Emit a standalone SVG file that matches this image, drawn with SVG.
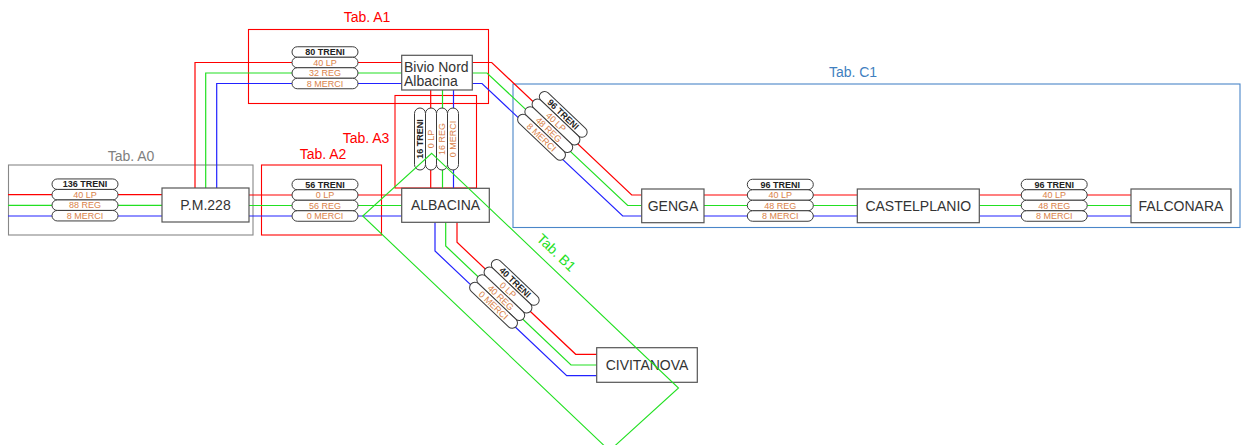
<svg xmlns="http://www.w3.org/2000/svg" width="1243" height="445" viewBox="0 0 1243 445">
<style>
.cap{fill:#fff;stroke:#3c3c3c;stroke-width:1}
.tt{font-family:"Liberation Sans",Arial,sans-serif;font-size:9px;font-weight:bold;fill:#222;text-anchor:middle}
.to{font-family:"Liberation Sans",Arial,sans-serif;font-size:9px;fill:#d9824a;text-anchor:middle}
.box{fill:#fff;stroke:#555;stroke-width:1.2}
.nt{font-family:"Liberation Sans",Arial,sans-serif;font-size:14px;fill:#333;text-anchor:middle}
.r{stroke:#f00;fill:none;stroke-width:1.2}
.g{stroke:#22e022;fill:none;stroke-width:1.2}
.b{stroke:#2222ff;fill:none;stroke-width:1.2}
.fr{fill:none;stroke-width:1.1}
.lab{font-family:"Liberation Sans",Arial,sans-serif;font-size:14px;text-anchor:middle}
</style>
<rect width="1243" height="445" fill="#fff"/>

<g id="frames">
  <g id="tab-a0"><rect class="fr" x="8.5" y="165" width="244.5" height="70" stroke="#888"/><text class="lab" x="131" y="161" fill="#808080">Tab. A0</text></g>
  <g id="tab-a1"><rect class="fr" x="248.5" y="29.5" width="240" height="74" stroke="#f00"/><text class="lab" x="367" y="22" fill="#f00">Tab. A1</text></g>
  <g id="tab-a2"><rect class="fr" x="261.5" y="165" width="120" height="70" stroke="#f00"/><text class="lab" x="323" y="159" fill="#f00">Tab. A2</text></g>
  <g id="tab-a3"><rect class="fr" x="395" y="95.5" width="81.5" height="92.5" stroke="#f00"/><text class="lab" x="366" y="143" fill="#f00">Tab. A3</text></g>
  <g id="tab-c1"><rect class="fr" x="513" y="84" width="727" height="143.5" stroke="#4a86c8"/><text class="lab" x="853" y="77" fill="#3f7fc0">Tab. C1</text></g>
</g>

<g id="connectors">
  <!-- A0: left to P.M.228 -->
  <path class="r" d="M8 194.7H162"/>
  <path class="g" d="M8 205.3H162"/>
  <path class="b" d="M8 216H162"/>
  <!-- P.M.228 to Bivio Nord -->
  <path class="r" d="M195 188V62.5H401.7"/>
  <path class="g" d="M205.7 188V73H401.7"/>
  <path class="b" d="M216.7 188V83.5H401.7"/>
  <!-- P.M.228 to ALBACINA -->
  <path class="r" d="M249 195H401.7"/>
  <path class="g" d="M249 205.5H401.7"/>
  <path class="b" d="M249 216H401.7"/>
  <!-- Bivio Nord to ALBACINA -->
  <path class="r" d="M430.7 90V188.3"/>
  <path class="g" d="M442.5 90V188.3"/>
  <path class="b" d="M453.5 90V188.3"/>
  <!-- Bivio Nord to GENGA -->
  <path class="r" d="M472.3 62.5H491.7L631.7 195H641.7"/>
  <path class="g" d="M472.3 73H487L627.7 205.5H641.7"/>
  <path class="b" d="M472.3 83.5H482L622.7 216H641.7"/>
  <!-- GENGA to CASTELPLANIO -->
  <path class="r" d="M704 195H857.3"/>
  <path class="g" d="M704 205.5H857.3"/>
  <path class="b" d="M704 216H857.3"/>
  <!-- CASTELPLANIO to FALCONARA -->
  <path class="r" d="M979.3 195H1131"/>
  <path class="g" d="M979.3 205.5H1131"/>
  <path class="b" d="M979.3 216H1131"/>
  <!-- ALBACINA to CIVITANOVA -->
  <path class="r" d="M457 222.3V242.3L575.7 354.3H596.7"/>
  <path class="g" d="M445.7 222.3V246L571 365H596.7"/>
  <path class="b" d="M435 222.3V251L566.7 375.7H596.7"/>
</g>

<g id="cap-a0" transform="translate(85,194.7)">
  <rect class="cap" x="-33" y="-15.75" width="66" height="10.5" rx="5.25"/>
  <rect class="cap" x="-33" y="-5.25" width="66" height="10.5" rx="5.25"/>
  <rect class="cap" x="-33" y="5.25" width="66" height="10.5" rx="5.25"/>
  <rect class="cap" x="-33" y="15.75" width="66" height="10.5" rx="5.25"/>
  <text class="tt" y="-7.3">136 TRENI</text><text class="to" y="3.2">40 LP</text><text class="to" y="13.7">88 REG</text><text class="to" y="24.2">8 MERCI</text>
</g>
<g id="cap-a1" transform="translate(325,62.5)">
  <rect class="cap" x="-33" y="-15.75" width="66" height="10.5" rx="5.25"/>
  <rect class="cap" x="-33" y="-5.25" width="66" height="10.5" rx="5.25"/>
  <rect class="cap" x="-33" y="5.25" width="66" height="10.5" rx="5.25"/>
  <rect class="cap" x="-33" y="15.75" width="66" height="10.5" rx="5.25"/>
  <text class="tt" y="-7.3">80 TRENI</text><text class="to" y="3.2">40 LP</text><text class="to" y="13.7">32 REG</text><text class="to" y="24.2">8 MERCI</text>
</g>
<g id="cap-a2" transform="translate(325,195)">
  <rect class="cap" x="-33" y="-15.75" width="66" height="10.5" rx="5.25"/>
  <rect class="cap" x="-33" y="-5.25" width="66" height="10.5" rx="5.25"/>
  <rect class="cap" x="-33" y="5.25" width="66" height="10.5" rx="5.25"/>
  <rect class="cap" x="-33" y="15.75" width="66" height="10.5" rx="5.25"/>
  <text class="tt" y="-7.3">56 TRENI</text><text class="to" y="3.2">0 LP</text><text class="to" y="13.7">56 REG</text><text class="to" y="24.2">0 MERCI</text>
</g>
<g id="cap-a3" transform="translate(431,139) rotate(-90)">
  <rect class="cap" x="-31" y="-16.5" width="62" height="11" rx="5.5"/>
  <rect class="cap" x="-31" y="-5.5" width="62" height="11" rx="5.5"/>
  <rect class="cap" x="-31" y="5.5" width="62" height="11" rx="5.5"/>
  <rect class="cap" x="-31" y="16.5" width="62" height="11" rx="5.5"/>
  <text class="tt" y="-7.8">16 TRENI</text><text class="to" y="3.2">0 LP</text><text class="to" y="14.2">16 REG</text><text class="to" y="25.2">0 MERCI</text>
</g>
<g id="cap-c1" transform="translate(556,122) rotate(43.5)">
  <rect class="cap" x="-31" y="-15.75" width="62" height="10.5" rx="5.25"/>
  <rect class="cap" x="-31" y="-5.25" width="62" height="10.5" rx="5.25"/>
  <rect class="cap" x="-31" y="5.25" width="62" height="10.5" rx="5.25"/>
  <rect class="cap" x="-31" y="15.75" width="62" height="10.5" rx="5.25"/>
  <text class="tt" y="-7.3">96 TRENI</text><text class="to" y="3.2">40 LP</text><text class="to" y="13.7">48 REG</text><text class="to" y="24.2">8 MERCI</text>
</g>
<g id="cap-genga-cast" transform="translate(780.3,195)">
  <rect class="cap" x="-33" y="-15.75" width="66" height="10.5" rx="5.25"/>
  <rect class="cap" x="-33" y="-5.25" width="66" height="10.5" rx="5.25"/>
  <rect class="cap" x="-33" y="5.25" width="66" height="10.5" rx="5.25"/>
  <rect class="cap" x="-33" y="15.75" width="66" height="10.5" rx="5.25"/>
  <text class="tt" y="-7.3">96 TRENI</text><text class="to" y="3.2">40 LP</text><text class="to" y="13.7">48 REG</text><text class="to" y="24.2">8 MERCI</text>
</g>
<g id="cap-cast-falc" transform="translate(1054.2,195)">
  <rect class="cap" x="-33" y="-15.75" width="66" height="10.5" rx="5.25"/>
  <rect class="cap" x="-33" y="-5.25" width="66" height="10.5" rx="5.25"/>
  <rect class="cap" x="-33" y="5.25" width="66" height="10.5" rx="5.25"/>
  <rect class="cap" x="-33" y="15.75" width="66" height="10.5" rx="5.25"/>
  <text class="tt" y="-7.3">96 TRENI</text><text class="to" y="3.2">40 LP</text><text class="to" y="13.7">48 REG</text><text class="to" y="24.2">8 MERCI</text>
</g>
<g id="cap-b1" transform="translate(508,290) rotate(43.5)">
  <rect class="cap" x="-31" y="-15.75" width="62" height="10.5" rx="5.25"/>
  <rect class="cap" x="-31" y="-5.25" width="62" height="10.5" rx="5.25"/>
  <rect class="cap" x="-31" y="5.25" width="62" height="10.5" rx="5.25"/>
  <rect class="cap" x="-31" y="15.75" width="62" height="10.5" rx="5.25"/>
  <text class="tt" y="-7.3">40 TRENI</text><text class="to" y="3.2">0 LP</text><text class="to" y="13.7">40 REG</text><text class="to" y="24.2">0 MERCI</text>
</g>

<g id="n-pm228"><rect class="box" x="162" y="188" width="87" height="34"/><text class="nt" x="205.5" y="209.5">P.M.228</text></g>
<g id="n-bivio"><rect class="box" x="401.7" y="55.3" width="70.6" height="34.7"/><text class="nt" x="404" y="71.5" style="text-anchor:start">Bivio Nord</text><text class="nt" x="404" y="86" style="text-anchor:start">Albacina</text></g>
<g id="n-albacina"><rect class="box" x="401.7" y="188.3" width="87.6" height="34"/><text class="nt" x="445.5" y="209.5">ALBACINA</text></g>
<g id="n-genga"><rect class="box" x="641.7" y="189" width="62.3" height="33.7"/><text class="nt" x="673" y="210.5">GENGA</text></g>
<g id="n-castelplanio"><rect class="box" x="857.3" y="189" width="122" height="33.7"/><text class="nt" x="918.3" y="210.5">CASTELPLANIO</text></g>
<g id="n-falconara"><rect class="box" x="1131" y="189" width="100" height="33.7"/><text class="nt" x="1181" y="210.5">FALCONARA</text></g>
<g id="n-civitanova"><rect class="box" x="596.7" y="347.7" width="100.6" height="34.6"/><text class="nt" x="647" y="370">CIVITANOVA</text></g>

<g id="tab-b1">
  <polygon class="fr" stroke="#22e022" points="431.7,153.3 678.5,388 609.5,450.7 362.7,216"/>
  <text class="lab" fill="#22e022" transform="translate(553,256) rotate(43.6)">Tab. B1</text>
</g>
</svg>
